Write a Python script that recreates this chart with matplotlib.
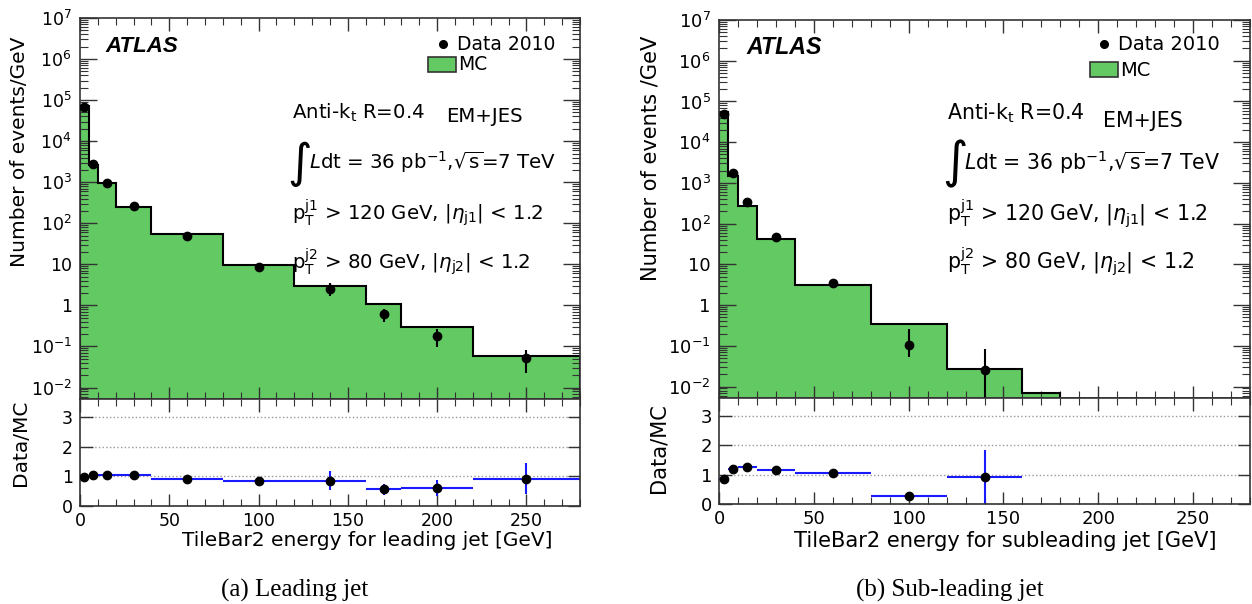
import numpy as np
import matplotlib
matplotlib.use("Agg")
import matplotlib.pyplot as plt
from matplotlib.ticker import FixedLocator, MultipleLocator, LogLocator, FuncFormatter, NullFormatter
from matplotlib.patches import Rectangle
from matplotlib.lines import Line2D

plt.rcParams['font.family'] = ['DejaVu Sans']
plt.rcParams['mathtext.fontset'] = 'dejavusans'

# ---------------- data ----------------
# Leading jet
lead_edges = [0, 5, 10, 20, 40, 80, 120, 160, 180, 220, 280]
lead_mc = [7.0e4, 2.6e3, 9.5e2, 2.5e2, 55, 9.8, 3.0, 1.07, 0.29, 0.057]
lead_x = [2.5, 7.5, 15, 30, 60, 100, 140, 170, 200, 250]
lead_data = [6.8e4, 2.75e3, 9.8e2, 2.6e2, 49, 8.4, 2.55, 0.62, 0.18, 0.051]
lead_data_err = [300, 60, 30, 8, 2, 0.7, 0.9, 0.22, 0.085, 0.029]
lead_ratio = [0.98, 1.06, 1.04, 1.04, 0.90, 0.85, 0.86, 0.56, 0.61, 0.92]
lead_ratio_err = [0.01, 0.02, 0.03, 0.03, 0.04, 0.08, 0.33, 0.20, 0.28, 0.53]

# Sub-leading jet
sub_edges = [0, 5, 10, 20, 40, 80, 120, 160, 180]
sub_mc = [5.5e4, 1.45e3, 275, 41, 3.2, 0.35, 0.027, 0.0069]
sub_x = [2.5, 7.5, 15, 30, 60, 100, 140]
sub_data = [4.8e4, 1.75e3, 345, 48, 3.5, 0.107, 0.026]
sub_data_err_lo = [250, 40, 15, 3, 0.5, 0.055, 0.0259]
sub_data_err_hi = [250, 40, 15, 3, 0.5, 0.15, 0.057]
sub_ratio = [0.86, 1.21, 1.25, 1.16, 1.07, 0.29, 0.91]
sub_ratio_err = [0.01, 0.02, 0.04, 0.05, 0.06, 0.05, 0.92]

MC_GREEN = '#63c963'
RATIO_BLUE = '#1a1aff'

W, H = 1252, 604
fig = plt.figure(figsize=(W / 100, H / 100), dpi=100)


def rect(x0, y0, x1, y1):
    return [x0 / W, 1 - y1 / H, (x1 - x0) / W, (y1 - y0) / H]


def log_fmt(v, pos):
    e = int(round(np.log10(v)))
    if e == 0:
        return '1'
    if e == 1:
        return '10'
    return r'$\mathregular{10^{%d}}$' % e


def style_ax(ax, fs):
    ax.tick_params(which='both', direction='in', top=True, right=True, colors='#333333',
                   labelcolor='black', labelsize=fs)
    for s in ax.spines.values():
        s.set_color('#333333')
        s.set_linewidth(1.2)


def panel(top_rect, ratio_rect, edges, mc, x, data, derr, ratio, rerr, ylabel, xlabel,
          k, ylab_pos, rlab_pos, xlab_pos):
    tfs = 12.5 * k
    lfs = 14.5 * k
    ax = fig.add_axes(top_rect)
    axr = fig.add_axes(ratio_rect, sharex=ax)
    ax.set_yscale('log')
    ax.stairs(mc, edges, fill=True, color=MC_GREEN, baseline=1e-4, zorder=1)
    ax.stairs(mc, edges, color='black', linewidth=1.5, baseline=1e-4, zorder=2)
    ax.errorbar(x, data, yerr=derr, fmt='o', color='black', markersize=6,
                elinewidth=1.5, capsize=0, zorder=3)
    ax.set_xlim(0, 280)
    ax.set_ylim(10 ** -2.28, 1e7)
    style_ax(ax, tfs)
    ax.yaxis.set_major_locator(FixedLocator([10.0 ** e for e in range(-2, 8)]))
    ax.yaxis.set_minor_locator(LogLocator(base=10, subs=np.arange(2, 10), numticks=20))
    ax.yaxis.set_major_formatter(FuncFormatter(log_fmt))
    ax.yaxis.set_minor_formatter(NullFormatter())
    ax.tick_params(which='major', axis='y', length=12, width=1, pad=6)
    ax.tick_params(which='minor', axis='y', length=6, width=0.8)
    ax.tick_params(which='major', axis='x', length=9, width=1)
    ax.tick_params(which='minor', axis='x', length=5, width=0.8)
    ax.tick_params(axis='x', labelbottom=False)
    ax.xaxis.set_major_locator(MultipleLocator(50))
    ax.xaxis.set_minor_locator(MultipleLocator(10))
    ax.set_ylabel(ylabel, fontsize=lfs, rotation=90, ha='center', va='center')
    ax.yaxis.set_label_coords(ylab_pos[0] / W, 1 - ylab_pos[1] / H, transform=fig.transFigure)

    axr.errorbar(x, ratio, yerr=rerr,
                 xerr=[(edges[i + 1] - edges[i]) / 2 for i in range(len(x))],
                 fmt='none', ecolor=RATIO_BLUE, elinewidth=1.5, capsize=0, zorder=2)
    axr.plot(x, ratio, 'o', color='black', markersize=6, zorder=3)
    axr.set_ylim(0, 3.62)
    axr.set_xlim(0, 280)
    style_ax(axr, tfs)
    axr.yaxis.set_major_locator(FixedLocator([0, 1, 2, 3]))
    axr.tick_params(which='major', axis='y', length=9, width=1, pad=5)
    axr.tick_params(which='major', axis='x', length=9, width=1, pad=4)
    axr.tick_params(which='minor', axis='x', length=5, width=0.8)
    axr.grid(axis='y', linestyle=':', color='#999999', linewidth=1)
    axr.set_ylabel('Data/MC', fontsize=lfs, rotation=90, ha='center', va='center')
    axr.yaxis.set_label_coords(rlab_pos[0] / W, 1 - rlab_pos[1] / H, transform=fig.transFigure)
    axr.set_xlabel(xlabel, fontsize=lfs, ha='right', va='center')
    axr.xaxis.set_label_coords(xlab_pos[0] / W, 1 - xlab_pos[1] / H, transform=fig.transFigure)
    return ax, axr


ax1, ax1r = panel(rect(80, 18, 580, 399), rect(80, 399, 580, 506),
                  lead_edges, lead_mc, lead_x, lead_data, lead_data_err,
                  lead_ratio, lead_ratio_err,
                  'Number of events/GeV', 'TileBar2 energy for leading jet [GeV]',
                  1.0, (20, 152), (21, 443), (553, 540))
ax2, ax2r = panel(rect(719, 20, 1250, 398), rect(719, 398, 1250, 504),
                  sub_edges, sub_mc, sub_x, sub_data, [sub_data_err_lo, sub_data_err_hi],
                  sub_ratio, sub_ratio_err,
                  'Number of events /GeV', 'TileBar2 energy for subleading jet [GeV]',
                  1.04, (650, 158), (659, 448), (1216, 541))


def ftxt(x, y, s, **kw):
    kw.setdefault('va', 'center')
    kw.setdefault('ha', 'left')
    fig.text(x / W, 1 - y / H, s, **kw)


def annot(k, ats_x, ats_y, leg_dot_x, leg_y, box_x, box_y, x0, ak_y, em_x, em_y, int_y, j1_y, j2_y):
    fs = 14.2 * k
    ftxt(ats_x, ats_y, 'ATLAS', fontsize=16 * k, fontweight='bold', fontstyle='italic',
         family='Liberation Sans')
    fig.add_artist(Line2D([leg_dot_x / W], [1 - leg_y / H], marker='o', color='black',
                          markersize=5.5, transform=fig.transFigure))
    ftxt(leg_dot_x + 14, leg_y, 'Data 2010', fontsize=13.5 * k)
    fig.add_artist(Rectangle((box_x / W, 1 - (box_y + 15) / H), 28 / W, 15 / H,
                             facecolor=MC_GREEN, edgecolor='#333333', linewidth=1.2,
                             transform=fig.transFigure))
    ftxt(box_x + 30, box_y + 8, 'MC', fontsize=13.5 * k)
    ftxt(x0, ak_y, r'Anti-k$_{\mathregular{t}}$ R=0.4', fontsize=fs)
    ftxt(em_x, em_y, 'EM+JES', fontsize=fs)
    ftxt(x0 - 5, int_y + 2, r'$\int$', fontsize=24 * k)
    ftxt(x0 + 17, int_y, r'$\mathit{L}$dt = 36 pb$^{\mathregular{-1}}$,$\sqrt{\mathregular{s}}$=7 TeV', fontsize=fs)
    ftxt(x0, j1_y, r'p$_{\mathregular{T}}^{\mathregular{j1}}$ > 120 GeV, |$\eta_{\mathregular{j1}}$| < 1.2', fontsize=fs)
    ftxt(x0, j2_y, r'p$_{\mathregular{T}}^{\mathregular{j2}}$ > 80 GeV, |$\eta_{\mathregular{j2}}$| < 1.2', fontsize=fs)


annot(1.0, 105, 46, 443, 44, 428, 57, 292, 113, 446, 117, 162, 213, 262)
annot(1.04, 746, 48, 1104, 44, 1090, 62, 947, 113, 1103, 121, 162, 214, 262)

fig.text(295 / W, 1 - 590 / H, '(a) Leading jet', fontsize=18, family='Liberation Serif',
         ha='center', va='center')
fig.text(950 / W, 1 - 590 / H, '(b) Sub-leading jet', fontsize=18, family='Liberation Serif',
         ha='center', va='center')

fig.savefig('out.png', dpi=100)
